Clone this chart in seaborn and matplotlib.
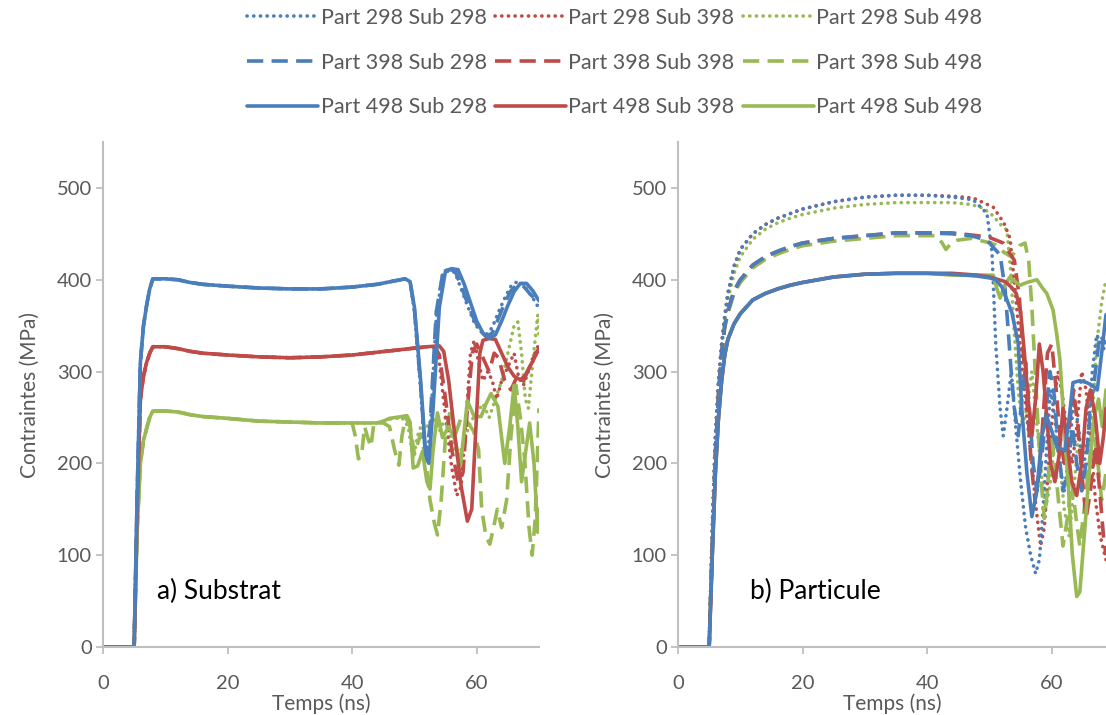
import numpy as np
import pandas as pd
import matplotlib
matplotlib.use("Agg")
import matplotlib.pyplot as plt
import seaborn as sns

# ---------------- data ----------------
# Left panel (a) Substrat: common start for each substrate temperature
sub_t_base = [0, 5, 5.5, 6, 6.5, 7, 7.5, 8, 9, 10, 12, 14, 16, 20, 25, 30, 35, 40]
sub_v_base_298 = [0, 0, 170, 310, 350, 372, 390, 401, 401, 401, 400, 397, 395, 393, 391, 390, 390, 392]
sub_v_base_398 = [0, 0, 150, 270, 295, 310, 320, 327, 327, 327, 325, 322, 320, 318, 316, 315, 316, 318]
sub_v_base_498 = [0, 0, 130, 200, 225, 238, 250, 257, 257, 257, 256, 253, 251, 249, 246, 245, 244, 244]

# tails (after 40 ns)
a_p298_s298_t = [44, 48.5, 49.3, 50, 51, 51.8, 52.5, 53.5, 54.5, 55.5, 56.5, 57.5, 58.5, 59.5, 60.5, 61.5, 62.5, 63.5, 64.5, 65.5, 66.5, 67.5, 68.5, 69.5, 70]
a_p298_s298_v = [395, 401, 398, 365, 280, 205, 230, 360, 405, 410, 408, 390, 372, 355, 344, 340, 348, 365, 380, 393, 398, 395, 385, 375, 368]
a_p398_s298_t = a_p298_s298_t
a_p398_s298_v = [395, 401, 398, 368, 285, 205, 240, 365, 405, 411, 410, 393, 375, 358, 345, 338, 342, 358, 375, 388, 395, 393, 385, 378, 372]
a_p498_s298_t = [44, 47, 48.5, 49.3, 50, 51, 51.8, 52.3, 53, 54, 55, 56, 57, 58, 59, 60, 61, 62, 63, 64, 65, 66, 67, 68, 69, 70]
a_p498_s298_v = [395, 399, 401, 398, 370, 290, 210, 200, 260, 370, 410, 412, 411, 395, 375, 355, 342, 336, 340, 355, 372, 387, 396, 396, 388, 377]

a_p298_s398_t = [44, 48, 52, 53.3, 54, 55, 56, 56.8, 57.5, 58.2, 59, 59.6, 60.3, 61, 61.8, 62.5, 63.2, 64, 65, 66, 66.7, 67.5, 68.3, 69, 70]
a_p298_s398_v = [321, 324, 327, 327, 310, 250, 195, 165, 175, 240, 320, 334, 310, 290, 300, 290, 270, 290, 305, 320, 295, 285, 300, 315, 330]
a_p398_s398_t = [44, 48, 52, 53.3, 54, 55, 56, 57, 57.8, 58.5, 59.3, 60, 61, 62, 62.8, 63.5, 64.5, 65.5, 66.5, 67.5, 68.5, 69.5, 70]
a_p398_s398_v = [321, 324, 327, 327, 318, 270, 215, 180, 190, 260, 320, 330, 315, 300, 320, 315, 290, 280, 295, 290, 305, 320, 325]
a_p498_s398_t = [44, 48, 52, 54, 54.7, 55.5, 56.5, 57.5, 58.5, 59.2, 59.8, 60.5, 61, 62, 63, 64, 65, 66, 67, 67.7, 68.5, 69.5, 70]
a_p498_s398_v = [321, 324, 327, 328, 322, 290, 230, 175, 137, 150, 230, 320, 334, 336, 335, 320, 305, 295, 291, 295, 305, 318, 325]

a_p298_s498_t = [44, 46, 48, 49, 49.8, 50.5, 51.3, 52, 53, 54, 55, 56, 57, 58, 59, 60, 61, 62, 63, 64, 65, 66, 66.6, 67.2, 67.8, 68.3, 69, 69.8, 70]
a_p298_s498_v = [244, 248, 250, 240, 205, 230, 245, 240, 250, 235, 250, 225, 205, 225, 245, 255, 265, 250, 270, 290, 320, 350, 354, 320, 270, 260, 310, 362, 340]
a_p398_s498_t = [40.5, 41, 41.5, 42, 42.5, 43, 43.5, 45, 46, 46.8, 47.5, 48, 48.6, 49.3, 50, 51, 51.8, 52.5, 53.2, 53.7, 54.3, 55, 55.8, 56.5, 57.5, 58.5, 59.5, 60.3, 60.8, 61.5, 62.1, 62.7, 63.3, 64, 64.8, 65.5, 66.3, 67, 67.7, 68.4, 68.9, 69.4, 70]
a_p398_s498_v = [230, 205, 208, 240, 228, 218, 244, 244, 240, 215, 198, 230, 250, 240, 210, 232, 205, 160, 135, 122, 160, 230, 260, 230, 250, 245, 235, 215, 150, 120, 112, 130, 150, 130, 160, 230, 285, 250, 205, 130, 100, 140, 260]
a_p498_s498_t = [42, 44, 45, 46, 47, 48, 48.8, 49.3, 49.8, 50.5, 51.3, 52, 52.5, 53, 53.7, 54.5, 55.5, 56.5, 57.4, 58.5, 59.6, 60.7, 61.5, 62.3, 63.4, 64.5, 65.3, 66, 66.6, 67.2, 67.8, 68.5, 69.2, 69.8, 70]
a_p498_s498_v = [244, 244, 246, 249, 250, 251, 252, 245, 195, 197, 213, 180, 172, 215, 255, 228, 240, 226, 198, 268, 251, 251, 265, 276, 262, 200, 240, 285, 240, 180, 210, 244, 200, 125, 150]

# Right panel (b) Particule: common start for each particle temperature
part_t_base = [0, 5, 5.5, 6, 6.5, 7, 7.5, 8, 9, 10, 12, 14, 16, 18, 20, 25, 30, 35, 40]
part_v_base_298 = [0, 0, 130, 230, 290, 330, 360, 385, 415, 433, 450, 460, 467, 472, 477, 485, 490, 492, 492]
part_v_base_298_s498 = [0, 0, 128, 226, 285, 325, 355, 378, 407, 425, 444, 455, 462, 467, 471, 478, 482, 484, 484]
part_v_base_398 = [0, 0, 110, 210, 275, 320, 350, 366, 388, 400, 416, 425, 431, 436, 440, 445, 448, 451, 451]
part_v_base_398_s498 = [0, 0, 110, 208, 272, 317, 347, 363, 385, 397, 413, 422, 428, 433, 437, 442, 445, 448, 448]
part_v_base_498 = [0, 0, 100, 190, 250, 290, 318, 335, 352, 363, 378, 385, 390, 394, 397, 403, 406, 407, 407]

b_p298_s298_t = [44, 47.4, 49.6, 50.4, 51, 51.7, 52.2, 52.8, 53.5, 54.2, 55, 55.8, 56.6, 57.4, 58, 58.6, 59.2, 59.8, 60.5, 61.2, 62, 62.8, 63.5, 64.3, 65, 65.8, 66.5, 67.2, 68, 68.7]
b_p298_s298_v = [490, 487, 472, 430, 330, 260, 230, 260, 300, 240, 180, 130, 100, 80, 95, 150, 220, 280, 250, 200, 170, 210, 270, 240, 190, 230, 300, 340, 330, 320]
b_p298_s398_t = [44, 47.4, 50.6, 52.3, 53.3, 53.8, 54.5, 55.3, 56, 56.8, 57.5, 58.2, 58.8, 59.5, 60.2, 61, 61.8, 62.5, 63.3, 64, 64.8, 65.5, 66.3, 67, 67.8, 68.7]
b_p298_s398_v = [491, 489, 479, 462, 445, 410, 360, 300, 250, 200, 150, 110, 130, 200, 260, 300, 270, 230, 200, 240, 300, 280, 220, 160, 120, 95]
b_p298_s498_t = [44, 47, 49, 50.5, 51.8, 52.8, 53.4, 54, 54.6, 55.3, 56, 56.8, 57.5, 58.3, 59, 59.8, 60.5, 61.3, 62, 62.8, 63.5, 64.3, 65, 65.8, 66.5, 67.2, 68, 68.7]
b_p298_s498_v = [484, 482, 478, 470, 460, 454, 410, 340, 280, 240, 260, 300, 250, 190, 150, 180, 230, 200, 150, 120, 170, 230, 200, 180, 250, 330, 375, 400]

b_p398_s298_t = [44, 47, 49.6, 51.7, 52.5, 53, 53.5, 54, 54.6, 55.2, 55.8, 56.4, 57, 57.6, 58.3, 59, 59.7, 60.3, 61, 61.8, 62.5, 63.3, 64, 64.8, 65.5, 66.2, 67, 67.7, 68.7]
b_p398_s298_v = [450, 448, 443, 427, 390, 345, 298, 260, 230, 270, 310, 260, 200, 170, 200, 250, 300, 280, 220, 170, 190, 240, 200, 170, 200, 260, 300, 340, 330]
b_p398_s398_t = [44, 48, 50, 52.2, 54, 54.8, 55.3, 56, 56.7, 57.3, 58, 58.7, 59.3, 60, 60.7, 61.3, 62, 62.8, 63.5, 64.2, 64.8, 65.5, 66.2, 67, 67.7, 68.3, 68.7]
b_p398_s398_v = [451, 448, 446, 440, 421, 380, 330, 270, 200, 160, 190, 260, 320, 330, 280, 230, 200, 240, 280, 240, 190, 140, 170, 220, 170, 120, 100]
b_p398_s498_t = [41.5, 42.4, 43, 44, 44.8, 47, 49.6, 51, 52.3, 53.5, 54.8, 55.7, 56.3, 56.8, 57.3, 57.8, 58.3, 58.8, 59.3, 59.9, 60.5, 61.2, 61.8, 62.5, 63.2, 63.9, 64.5, 65.2, 66, 66.7, 67.4, 68, 68.7]
b_p398_s498_v = [448, 440, 433, 441, 443, 445, 441, 438, 430, 425, 437, 440, 420, 370, 305, 240, 180, 140, 170, 230, 200, 150, 110, 140, 180, 140, 110, 150, 200, 240, 200, 160, 190]

b_p498_s298_t = [44, 48, 50, 51, 52, 53.6, 54.6, 55.2, 56, 56.8, 57.6, 58.4, 59.2, 60, 60.8, 62.1, 62.8, 63.4, 64.5, 65.6, 66.5, 67.3, 68, 68.7]
b_p498_s298_v = [406, 404, 402, 400, 392, 364, 331, 258, 190, 142, 170, 230, 251, 235, 218, 214, 250, 288, 290, 288, 285, 280, 320, 362]
b_p498_s398_t = [44, 48, 50, 51.5, 52.5, 53.5, 54.3, 55, 55.6, 56.2, 56.8, 57.4, 58, 58.6, 59.2, 59.8, 60.5, 61.2, 61.8, 62.5, 63.2, 64, 64.8, 65.5, 66.2, 67, 67.7, 68.3, 68.7]
b_p498_s398_v = [407, 405, 403, 400, 398, 392, 385, 365, 320, 270, 230, 270, 330, 300, 250, 200, 180, 210, 260, 220, 180, 165, 200, 260, 280, 250, 200, 230, 260]
b_p498_s498_t = [44, 47, 50.6, 51.2, 51.7, 52.5, 53.3, 54.1, 54.9, 56, 57.6, 58.4, 59.2, 60.2, 60.8, 61.3, 62, 62.7, 63.3, 64, 64.5, 65.2, 66, 66.8, 67.5, 68.1, 68.7]
b_p498_s498_v = [405, 405, 405, 390, 380, 395, 403, 398, 394, 397, 400, 392, 385, 367, 340, 313, 240, 170, 100, 55, 60, 120, 190, 250, 270, 240, 280]

parts = ["298", "398", "498"]
subs = ["298", "398", "498"]

# ---------------- style ----------------
sns.set_theme(style="white")
plt.rcParams["font.family"] = ["Lato", "DejaVu Sans"]

colors = {"298": "#4A7EBB", "398": "#BE4B48", "498": "#98B954"}
LW = 2.6
styles = {
    "298": dict(linestyle=(0, (0.05, 1.8)), dash_capstyle="round"),
    "398": dict(linestyle=(0, (4.5, 2.3)), dash_capstyle="butt"),
    "498": dict(linestyle="-", solid_capstyle="round", solid_joinstyle="round"),
}
GRAY_TXT = "#595959"
GRAY_AX = "#BFBFBF"

W, H = 1106, 715
fig = plt.figure(figsize=(W / 100, H / 100), dpi=100)
y0 = (H - 647) / H
hgt = (647 - 142) / H
axL = fig.add_axes([103 / W, y0, (539 - 103) / W, hgt])
axR = fig.add_axes([678 / W, y0, (1106 - 678) / W, hgt])


def series(panel, p, s):
    if panel == "a":
        bt = sub_t_base
        bv = {"298": sub_v_base_298, "398": sub_v_base_398, "498": sub_v_base_498}[s]
    else:
        bt = part_t_base
        if p == "298":
            bv = part_v_base_298_s498 if s == "498" else part_v_base_298
        elif p == "398":
            bv = part_v_base_398_s498 if s == "498" else part_v_base_398
        else:
            bv = part_v_base_498
    tt = globals()[f"{panel}_p{p}_s{s}_t"]
    tv = globals()[f"{panel}_p{p}_s{s}_v"]
    return list(bt) + list(tt), list(bv) + list(tv)


handles = {}
for panel, ax in (("a", axL), ("b", axR)):
    for p in parts:
        for s in ["498", "398", "298"]:
            t, v = series(panel, p, s)
            df = pd.DataFrame({"t": t, "v": v})
            sns.lineplot(data=df, x="t", y="v", ax=ax, color=colors[s], lw=LW,
                         estimator=None, sort=False, legend=False, **styles[p])
            if panel == "a":
                handles[(p, s)] = ax.get_lines()[-1]

for ax, xmax in ((axL, 70), (axR, (1106 - 678) / 6.23)):
    ax.set_xlim(0, xmax)
    ax.set_ylim(0, 550)
    ax.set_xticks([0, 20, 40, 60])
    ax.set_yticks([0, 100, 200, 300, 400, 500])
    for sp in ("top", "right"):
        ax.spines[sp].set_visible(False)
    for sp in ("left", "bottom"):
        ax.spines[sp].set_color(GRAY_AX)
        ax.spines[sp].set_linewidth(1.5)
    ax.tick_params(axis="both", which="both", direction="out", length=5, width=1.3,
                   color=GRAY_AX, labelcolor=GRAY_TXT, labelsize=14.5,
                   left=True, bottom=True)
    ax.tick_params(axis="x", pad=15)
    ax.tick_params(axis="y", pad=3)
    ax.set_xlabel("Temps (ns)", fontsize=15, color=GRAY_TXT, labelpad=1)
    ax.set_ylabel("Contraintes (MPa)", fontsize=15, color=GRAY_TXT, labelpad=12)
    ax.set_facecolor("white")

axL.text(8.6, 60, "a) Substrat", fontsize=19, color="black", va="center", ha="left")
axR.text(11.6, 60, "b) Particule", fontsize=19, color="black", va="center", ha="left")

hl, lb = [], []
for s in subs:
    for p in parts:
        hl.append(handles[(p, s)])
        lb.append(f"Part {p} Sub {s}")
fig.legend(hl, lb, loc="upper center", bbox_to_anchor=(0.556, 1.016), ncol=3,
           frameon=False, fontsize=15.5, labelcolor=GRAY_TXT, handlelength=3.3,
           handletextpad=0.1, columnspacing=0.4, labelspacing=1.15)

fig.savefig("out.png", dpi=100, facecolor="white")
